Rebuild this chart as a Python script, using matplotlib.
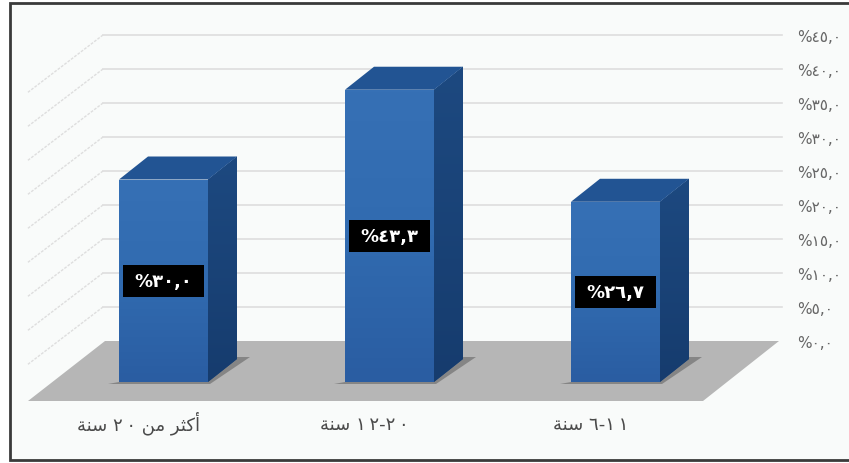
import numpy as np
import matplotlib
matplotlib.use("Agg")
import matplotlib.pyplot as plt
from matplotlib.patches import Polygon, Rectangle
from matplotlib.colors import LinearSegmentedColormap

plt.rcParams['font.family'] = ['DejaVu Sans']

# Arabic text in visual order with presentation forms (matplotlib does no shaping)
SANA = '\uFE94\uFEE8\uFEB3'
MIN = '\uFEE6\uFEE3'
AKTHAR = '\uFEAE\uFE9C\uFEDB\uFE83'
categories = [f'{SANA} ٢\u2009٠ {MIN} {AKTHAR}', f'{SANA} ١\u2009٢-٢\u2009٠', f'{SANA} ٦-١\u2009١']
values = [30.0, 43.3, 26.7]
value_labels = ['%٣٠,٠', '%٤٣,٣', '%٢٦,٧']
tick_values = [0, 5, 10, 15, 20, 25, 30, 35, 40, 45]
tick_labels = ['%٠,٠', '%٥,٠', '%١٠,٠', '%١٥,٠', '%٢٠,٠', '%٢٥,٠', '%٣٠,٠', '%٣٥,٠', '%٤٠,٠', '%٤٥,٠']

W, H = 849, 464
fig = plt.figure(figsize=(W / 100, H / 100), dpi=100, facecolor='white')

# frame / background
bg = fig.add_axes([0, 0, 1, 1], zorder=0)
bg.set_xlim(0, W); bg.set_ylim(H, 0); bg.axis('off')
bg.add_patch(Rectangle((10, 4), W + 20, 457, fc='#f9fbfa', ec='#3a3a3a', lw=2))

# floor (styling geometry of the 3D scene)
bg.add_patch(Polygon([(28, 402), (703, 402), (779, 342), (105, 342)], closed=True,
                     fc='#b6b6b6', ec='none'))

# back wall axes: value scale with the tick labels
px, py, pw, ph = 103, 36, 679, 306
wall = fig.add_axes([px / W, 1 - (py + ph) / H, pw / W, ph / H], zorder=1)
wall.patch.set_alpha(0)
wall.set_xlim(0, 1); wall.set_ylim(0, 45)
for s in wall.spines.values():
    s.set_visible(False)
wall.set_xticks([])
wall.yaxis.tick_right()
wall.set_yticks(tick_values)
wall.set_yticklabels(tick_labels, fontsize=11, color='#666666')
wall.tick_params(axis='y', length=0, pad=10.8)
for v in tick_values[1:]:
    wall.axhline(v, color='#dedede', lw=1.2, clip_on=False)
    wall.plot([0, -76 / pw], [v, v - 58 * 45 / ph], color='#dedede', lw=1,
              ls=(0, (2, 1)), clip_on=False)

# bars axes: front plane of the 3D scene
X0, SP, Y0, UNIT = 163.5, 226.0, 383.0, 6.75
ax = fig.add_axes([0, 0, 1, 1], zorder=2)
ax.patch.set_alpha(0)
ax.axis('off')
xl = (-X0 / SP, (W - X0) / SP)
yl = ((Y0 - H) / UNIT, Y0 / UNIT)

BW = 89 / SP / 2
DX, DY = 29 / SP, 23 / UNIT
BOX_W, BOX_H = 81 / SP, 32 / UNIT

front = LinearSegmentedColormap.from_list('f', ['#2a5da2', '#316bb0', '#3670b5'])
side = LinearSegmentedColormap.from_list('s', ['#163c6e', '#1d4980'])
grad = np.linspace(1, 0, 64).reshape(-1, 1)

for i, v in enumerate(values):
    l, r = i - BW, i + BW
    # ground shadow
    ax.add_patch(Polygon([(l - 11 / SP, -2 / UNIT), (r + 2 / SP, -2 / UNIT),
                          (r + DX + 13 / SP, DY + 2 / UNIT), (r + DX, DY + 2 / UNIT),
                          (r, 0), (l, 0)], closed=True, fc='#858585', ec='none', zorder=2))
    # front face
    im = ax.imshow(grad, extent=(l, r, 0, v), cmap=front, aspect='auto', zorder=3,
                   interpolation='bilinear', vmin=0, vmax=1)
    im.set_clip_path(Rectangle((l, 0), 2 * BW, v, transform=ax.transData))
    # side face
    poly = Polygon([(r, 0), (r + DX, DY), (r + DX, v + DY), (r, v)], closed=True,
                   fc='#1d4980', ec='none', zorder=3)
    ax.add_patch(poly)
    im2 = ax.imshow(grad, extent=(r, r + DX, 0, v + DY), cmap=side, aspect='auto', zorder=3.1,
                    interpolation='bilinear', vmin=0, vmax=1)
    im2.set_clip_path(poly)
    # top face
    ax.add_patch(Polygon([(l, v), (r, v), (r + DX, v + DY), (l + DX, v + DY)], closed=True,
                         fc='#225493', ec='none', zorder=3.2))
    # value label
    ax.add_patch(Rectangle((i - BOX_W / 2, v / 2 - BOX_H / 2), BOX_W, BOX_H,
                           fc='black', ec='none', zorder=4))
    ax.text(i, v / 2, value_labels[i], ha='center', va='center', color='white',
            fontsize=13, fontweight='bold', zorder=5)
    # category label
    ax.text(i - 25 / SP, -47 / UNIT, categories[i], ha='center', va='baseline',
            color='#4a4a4a', fontsize=13, zorder=5)

ax.set_xlim(*xl)
ax.set_ylim(*yl)

fig.savefig('out.png', dpi=100)
